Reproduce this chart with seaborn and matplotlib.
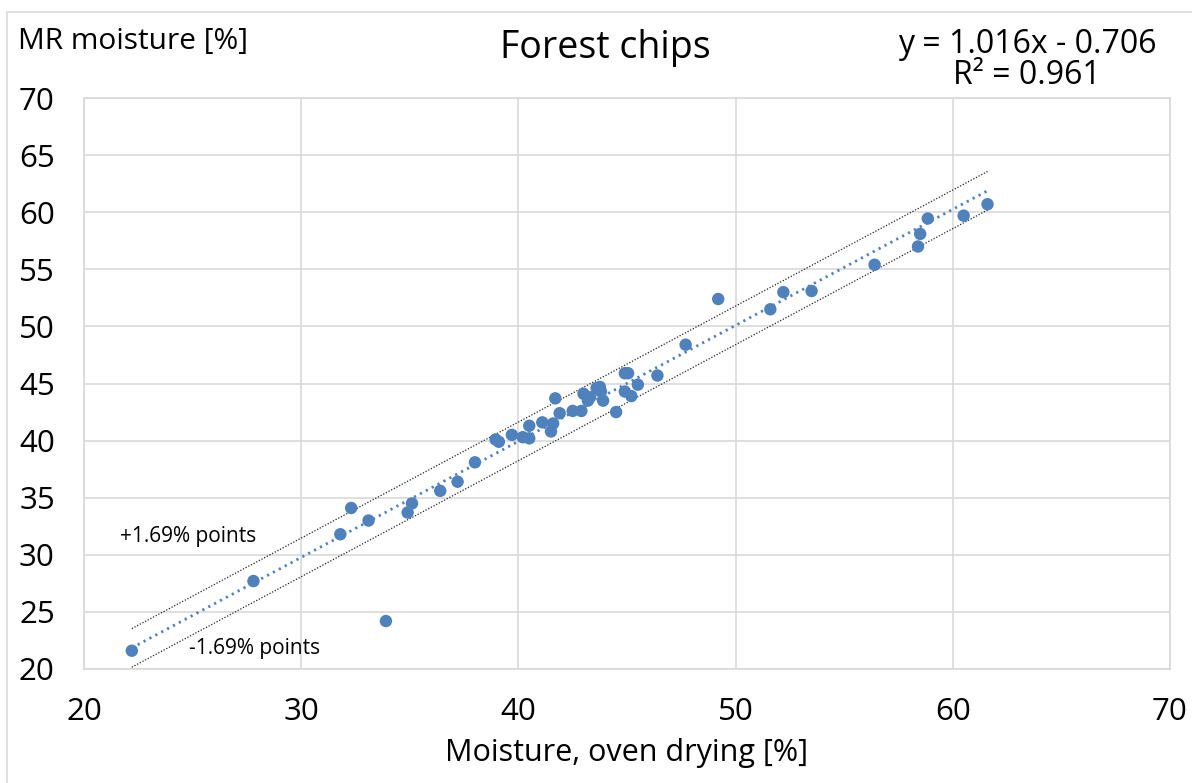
import matplotlib
matplotlib.use("Agg")
import matplotlib.pyplot as plt
import numpy as np
import pandas as pd
import seaborn as sns
from matplotlib.patches import Rectangle

# Data
oven = [22.2, 27.8, 31.8, 32.3, 33.1, 33.9, 34.9, 35.1, 36.4, 37.2, 38.0,
        38.95, 39.1, 39.7, 40.2, 40.5, 40.5, 41.1, 41.5, 41.6, 41.7, 41.9,
        42.5, 42.9, 43.0, 43.2, 43.3, 43.6, 43.75, 43.8, 43.9, 44.5, 44.9,
        45.05, 44.9, 45.2, 45.5, 46.4, 47.7, 49.2, 51.6, 52.2, 53.5, 56.4,
        58.4, 58.5, 58.85, 60.5, 61.6]
mr = [21.6, 27.7, 31.8, 34.1, 33.0, 24.2, 33.7, 34.5, 35.6, 36.4, 38.1,
      40.1, 39.9, 40.5, 40.3, 40.2, 41.3, 41.6, 40.8, 41.5, 43.7, 42.4,
      42.6, 42.6, 44.1, 43.5, 43.8, 44.6, 44.7, 44.3, 43.5, 42.5, 45.9,
      45.9, 44.3, 43.9, 44.9, 45.7, 48.4, 52.4, 51.5, 53.0, 53.1, 55.4,
      57.0, 58.1, 59.45, 59.7, 60.7]
slope = 1.016
intercept = -0.706
band = 1.69

df = pd.DataFrame({"oven": oven, "mr": mr})
xs = np.array([min(oven), max(oven)])
fit = pd.DataFrame({"x": xs, "y": slope * xs + intercept})

sns.set_style("white")
plt.rcParams["font.family"] = ["Open Sans", "DejaVu Sans"]
plt.rcParams["text.color"] = "black"

fig, ax = plt.subplots(figsize=(11.92, 7.83), dpi=100)
fig.subplots_adjust(left=0.0705, right=0.9815, top=0.8748, bottom=0.1456)

blue = "#4f81bd"
sns.lineplot(data=fit, x="x", y=fit["y"] + band, ax=ax, color="#222222",
             lw=0.9, linestyle=(0, (1, 1.4)))
sns.lineplot(data=fit, x="x", y=fit["y"] - band, ax=ax, color="#222222",
             lw=0.9, linestyle=(0, (1, 1.4)))
sns.lineplot(data=fit, x="x", y="y", ax=ax, color=blue, lw=2,
             linestyle=(0, (0.8, 1.6)))
sns.scatterplot(data=df, x="oven", y="mr", ax=ax, color=blue, s=80,
                edgecolor="none", zorder=5)

ax.set_xlim(20, 70)
ax.set_ylim(20, 70)
ax.set_xticks(range(20, 71, 10))
ax.set_yticks(range(20, 71, 5))
ax.grid(True, color="#d9d9d9", lw=1.2)
ax.set_axisbelow(True)
for s in ax.spines.values():
    s.set_color("#d9d9d9")
    s.set_linewidth(1.2)
ax.tick_params(labelsize=22.5, length=0, colors="black")
ax.tick_params(axis="x", pad=20)
ax.tick_params(axis="y", pad=21)

ax.set_xlabel("Moisture, oven drying [%]", fontsize=22, labelpad=8,
              color="black")
ax.set_ylabel("")
fig.text(18 / 1192, 1 - 41 / 783, "MR moisture [%]", fontsize=21.5,
         va="center", ha="left")
fig.text(605 / 1192, 1 - 48 / 783, "Forest chips", fontsize=27,
         va="center", ha="center")
fig.text(1027 / 1192, 1 - 60 / 783, "y = 1.016x - 0.706\nR² = 0.961",
         fontsize=23, va="center", ha="center", linespacing=0.95)

ax.text(21.65, 31.6, "+1.69% points", fontsize=15, va="center", ha="left")
ax.text(24.85, 21.8, "-1.69% points", fontsize=15, va="center", ha="left")

fig.add_artist(Rectangle((7 / 1192, -0.05), 1.1, 1 - 12 / 783 + 0.05,
                         transform=fig.transFigure, fill=False,
                         edgecolor="#d9d9d9", lw=1.2))

fig.savefig("out.png", dpi=100)
